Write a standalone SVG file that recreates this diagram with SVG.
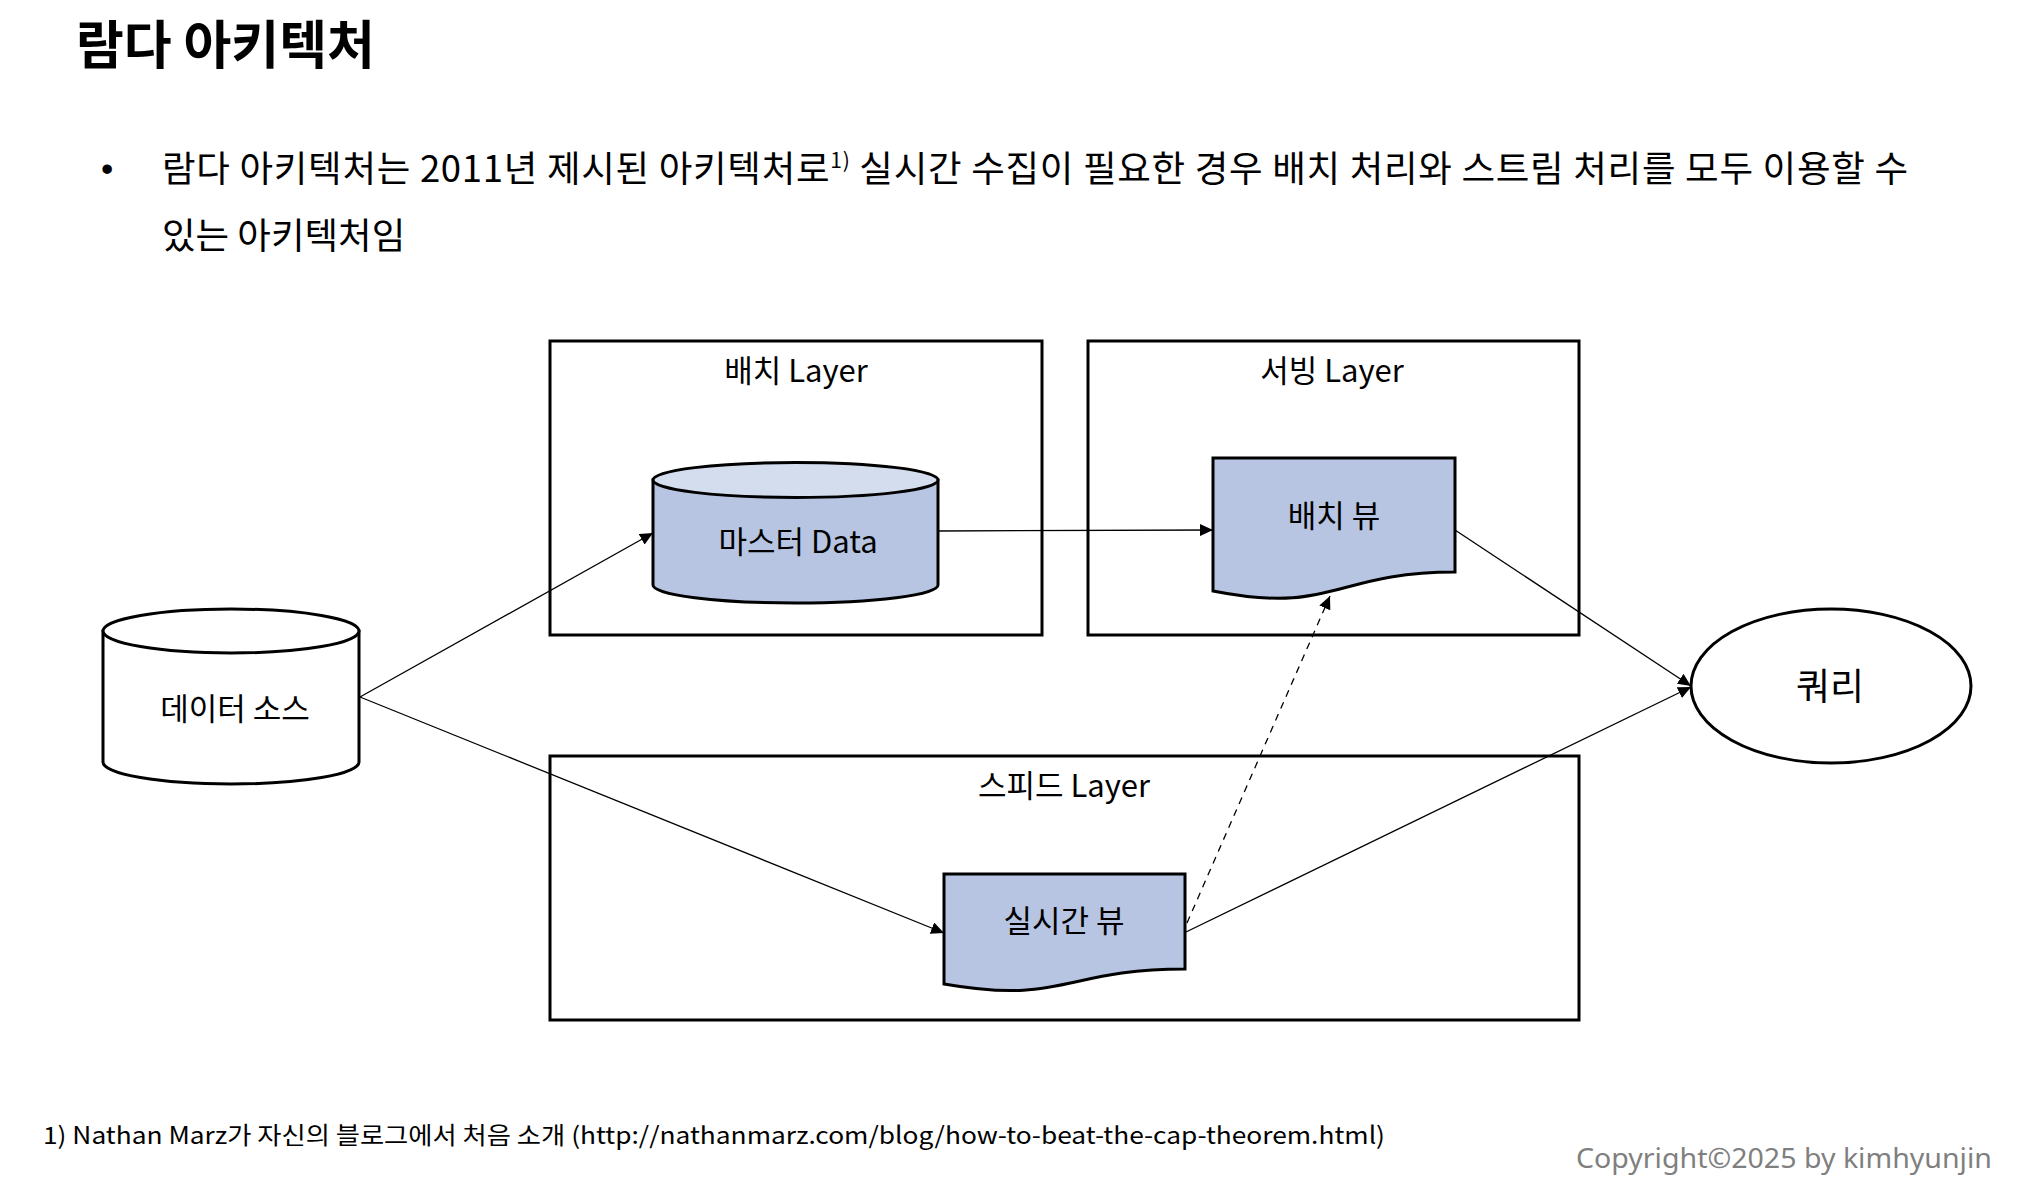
<svg xmlns="http://www.w3.org/2000/svg" width="2024" height="1190" viewBox="0 0 2024 1190">
<defs>
<style>
text{font-family:"Noto Sans CJK KR","Noto Sans",sans-serif;fill:#000}
.lbl{font-size:31px;text-anchor:middle}
.layer{fill:none;stroke:#000;stroke-width:3}
.shape{stroke:#000;stroke-width:3}
.blue{fill:#B7C5E2}
.top{fill:#D4DDEE}
.conn{fill:none;stroke:#000;stroke-width:1.3}
.dash{stroke-dasharray:7,6}
</style>
<marker id="arr" markerUnits="userSpaceOnUse" markerWidth="14" markerHeight="12" refX="13" refY="6" orient="auto">
<path d="M0,0 L13,6 L0,12 Z" fill="#000"/>
</marker>
</defs>
<rect width="2024" height="1190" fill="#fff"/>

<g id="title">
<text x="76" y="64" style="font-size:52px;font-weight:700">람다 아키텍처</text>
</g>
<g id="bullet">
<text x="101" y="181" style="font-family:'Liberation Sans',sans-serif;font-size:35px">•</text>
<text x="162" y="182" style="font-size:36.5px" textLength="1746" lengthAdjust="spacing">람다 아키텍처는 2011년 제시된 아키텍처로<tspan style="font-size:21px" dy="-14">1)</tspan><tspan dy="14"> 실시간 수집이 필요한 경우 배치 처리와 스트림 처리를 모두 이용할 수</tspan></text>
<text x="162" y="249" style="font-size:36.5px">있는 아키텍처임</text>
</g>

<g id="batch-layer">
<rect class="layer" x="550" y="341" width="492" height="294"/>
<text class="lbl" x="796" y="382">배치 Layer</text>
</g>
<g id="serving-layer">
<rect class="layer" x="1088" y="341" width="491" height="294"/>
<text class="lbl" x="1332" y="382">서빙 Layer</text>
</g>
<g id="speed-layer">
<rect class="layer" x="550" y="756" width="1029" height="264"/>
<text class="lbl" x="1064" y="797">스피드 Layer</text>
</g>

<g id="connectors">
<path class="conn" d="M360,697 L653,533" marker-end="url(#arr)"/>
<path class="conn" d="M360,697 L944,933" marker-end="url(#arr)"/>
<path class="conn" d="M938,531 L1213,530" marker-end="url(#arr)"/>
<path class="conn" d="M1455,530 L1691,686" marker-end="url(#arr)"/>
<path class="conn" d="M1186,932 L1691,687" marker-end="url(#arr)"/>
<path class="conn dash" d="M1187,923 L1330,596" marker-end="url(#arr)"/>
</g>

<g id="data-source">
<path class="shape" fill="#fff" d="M103,631 V762 A128,22 0 0 0 359,762 V631 Z"/>
<ellipse class="shape" fill="#fff" cx="231" cy="631" rx="128" ry="22"/>
<text class="lbl" x="235" y="720">데이터 소스</text>
</g>

<g id="master-data">
<path class="shape blue" d="M653,480 V585 A142.5,18 0 0 0 938,585 V480 Z"/>
<ellipse class="shape top" cx="795.5" cy="480" rx="142.5" ry="17.5"/>
<text class="lbl" x="798" y="553">마스터 Data</text>
</g>

<g id="batch-view">
<path class="shape blue" d="M1213,458 H1455 V572 C1334,572 1334,615 1213,591 Z"/>
<text class="lbl" x="1334" y="527">배치 뷰</text>
</g>

<g id="realtime-view">
<path class="shape blue" d="M944,874 H1185 V969 C1064.5,969 1064.5,1005 944,984 Z"/>
<text class="lbl" x="1064" y="932">실시간 뷰</text>
</g>

<g id="query">
<ellipse class="shape" fill="#fff" cx="1831" cy="686" rx="140" ry="77"/>
<text x="1830" y="700" style="font-size:37px;text-anchor:middle">쿼리</text>
</g>

<g id="footnote">
<text x="43" y="1144" style="font-size:24px" textLength="1342" lengthAdjust="spacingAndGlyphs">1) Nathan Marz가 자신의 블로그에서 처음 소개 (http://nathanmarz.com/blog/how-to-beat-the-cap-theorem.html)</text>
</g>
<g id="copyright">
<text x="1576" y="1168" style="font-family:'Noto Sans',sans-serif;font-size:27px;fill:#7F7F7F" textLength="416" lengthAdjust="spacingAndGlyphs">Copyright©2025 by kimhyunjin</text>
</g>
</svg>
